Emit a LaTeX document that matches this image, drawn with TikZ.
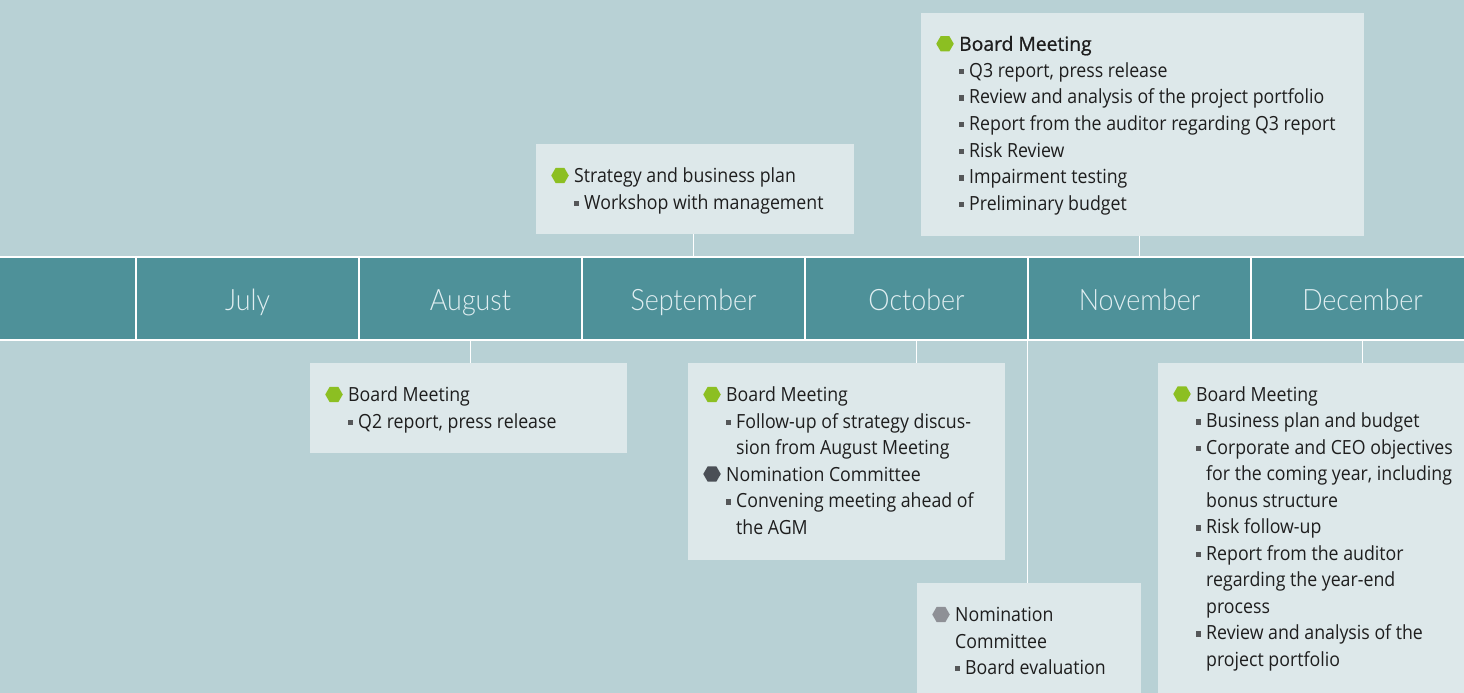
\documentclass[tikz,border=0pt]{standalone}
\usepackage{fontspec}
\setmainfont{Open Sans}[FakeStretch=0.91]
\newfontfamily\boxfont{Open Sans}[FakeStretch=0.91]
\newfontfamily\boxfontb{Open Sans}[FakeStretch=0.99,FakeBold=0.9]
\newfontfamily\monthfont{Lato Light}[FakeStretch=0.91]
\usetikzlibrary{shapes.geometric}
\definecolor{bgc}{RGB}{184,209,213}
\definecolor{bandc}{RGB}{78,145,153}
\definecolor{boxc}{RGB}{221,232,234}
\definecolor{txtc}{RGB}{30,30,30}
\definecolor{sqc}{RGB}{85,87,89}
\definecolor{grn}{RGB}{140,191,34}
\definecolor{darkhex}{RGB}{74,79,86}
\definecolor{grayhex}{RGB}{142,144,150}
\definecolor{monthc}{RGB}{224,238,241}
\tikzset{
 box/.style={fill=boxc, draw=none, inner sep=0pt, anchor=north west},
 month/.style={fill=bandc, draw=white, line width=1.3pt, minimum height=83pt, minimum width=223pt, inner sep=0pt, text=monthc, font=\monthfont\fontsize{29.5}{31}\selectfont, text height=23.5pt, text depth=0pt},
 txt/.style={anchor=base west, inner sep=0pt, text=txtc, font=\boxfont\fontsize{19.5}{26}\selectfont},
 hexa/.style={regular polygon, regular polygon sides=6, minimum size=17.5pt, inner sep=0pt, draw=none},
 sqb/.style={rectangle, minimum size=5.5pt, inner sep=0pt, fill=sqc},
 conn/.style={draw=white, line width=1.3pt},
}
\newcommand\hexitem[5]{%
 \node[hexa, fill=#4] (#1-h) at ({#2+24},{#3-7}) {};
 \node[txt] (#1) at ({#2+38},#3) {#5};}
\newcommand\headcont[4]{%
 \node[txt] (#1) at ({#2+38},#3) {#4};}
\newcommand\bulitem[4]{%
 \node[sqb] (#1-s) at ({#2+40.7},{#3-5.7}) {};
 \node[txt] (#1) at ({#2+48},#3) {#4};}
\newcommand\contline[4]{%
 \node[txt] (#1) at ({#2+48},#3) {#4};}
\begin{document}
\begin{tikzpicture}[x=1pt,y=-1pt]
\fill[bgc] (0,0) rectangle (1464,693);
\useasboundingbox (0,0) rectangle (1464,693);
% month band
\node[month, minimum width=142pt] (pre) at (65,298.5) {};
\node[month] (jul) at (247.5,298.5) {July};
\node[month] (aug) at (470.5,298.5) {August};
\node[month] (sep) at (693.5,298.5) {September};
\node[month] (oct) at (916.5,298.5) {October};
\node[month] (nov) at (1139.5,298.5) {November};
\node[month] (dec) at (1362.5,298.5) {December};
% September box
\node[box, minimum width=318pt, minimum height=90pt] (sepbox) at (536,144) {};
\hexitem{sa}{536}{182.5}{grn}{Strategy and business plan}
\bulitem{sb}{536}{209}{Workshop with management}
% November top box
\node[box, minimum width=443pt, minimum height=223pt] (novtop) at (921,13) {};
\hexitem{na}{921}{50.8}{grn}{\boxfontb Board Meeting}
\bulitem{nb}{921}{77.3}{Q3 report, press release}
\bulitem{nc}{921}{103.9}{Review and analysis of the project portfolio}
\bulitem{nd}{921}{130.4}{Report from the auditor regarding Q3 report}
\bulitem{ne}{921}{157}{Risk Review}
\bulitem{nf}{921}{183.5}{Impairment testing}
\bulitem{ng}{921}{210}{Preliminary budget}
% August box
\node[box, minimum width=317pt, minimum height=90pt] (augbox) at (310,363) {};
\hexitem{aa}{310}{401.5}{grn}{Board Meeting}
\bulitem{ab}{310}{428}{Q2 report, press release}
% October box
\node[box, minimum width=317pt, minimum height=197pt] (octbox) at (688,363) {};
\hexitem{oa}{688}{401.5}{grn}{Board Meeting}
\bulitem{ob}{688}{428}{Follow-up of strategy discus-}
\contline{oc}{688}{454.5}{sion from August Meeting}
\hexitem{od}{688}{481}{darkhex}{Nomination Committee}
\bulitem{oe}{688}{507.5}{Convening meeting ahead of}
\contline{of}{688}{534}{the AGM}
% November bottom box
\node[box, minimum width=224pt, minimum height=120pt] (nombox) at (917,583) {};
\hexitem{ma}{917}{621.5}{grayhex}{Nomination}
\headcont{mb}{917}{648}{Committee}
\bulitem{mc}{917}{674}{Board evaluation}
% December box
\node[box, minimum width=320pt, minimum height=340pt] (decbox) at (1158,363) {};
\hexitem{da}{1158}{401}{grn}{Board Meeting}
\bulitem{db}{1158}{427.5}{Business plan and budget}
\bulitem{dc}{1158}{454}{Corporate and CEO objectives}
\contline{dd}{1158}{480.5}{for the coming year, including}
\contline{de}{1158}{507}{bonus structure}
\bulitem{df}{1158}{533.5}{Risk follow-up}
\bulitem{dg}{1158}{560}{Report from the auditor}
\contline{dh}{1158}{586.5}{regarding the year-end}
\contline{di}{1158}{613}{process}
\bulitem{dj}{1158}{639.5}{Review and analysis of the}
\contline{dk}{1158}{666}{project portfolio}
% connectors
\draw[conn] (sep.north) -- (sep.north |- sepbox.south);
\draw[conn] (nov.north) -- (nov.north |- novtop.south);
\draw[conn] (aug.south) -- (aug.south |- augbox.north);
\draw[conn] (oct.south) -- (oct.south |- octbox.north);
\draw[conn] (nov.south west) -- (nov.south west |- nombox.north);
\draw[conn] (dec.south) -- (dec.south |- decbox.north);
\end{tikzpicture}
\end{document}
